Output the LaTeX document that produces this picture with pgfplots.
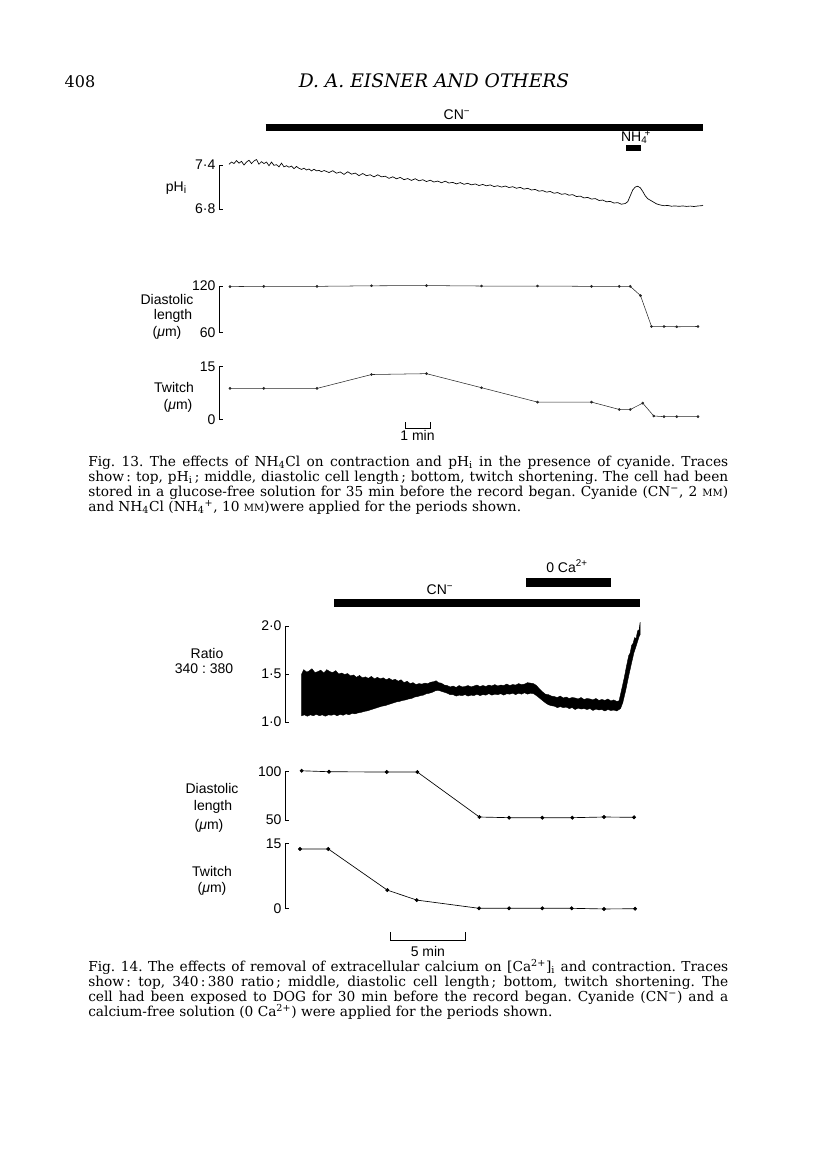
\documentclass[border=0pt]{standalone}
\usepackage{fontspec}
\usepackage{pgfplots}
\pgfplotsset{compat=1.18}
\newfontfamily\hv{Liberation Sans}
\newfontfamily\serifcap{DejaVu Serif}
\newcommand\lab{\hv\fontsize{10.5}{12}\selectfont}
\newcommand\capf{\serifcap\fontsize{10.3}{11}\selectfont}
\newcommand\mM{{\fontsize{7.5}{8}\selectfont MM}}
\frenchspacing

\pgfplotsset{
  trace/.style={
    scale only axis, clip=false, anchor=south west,
    axis x line=none, axis y line*=left, xtick=\empty,
    y axis line style={-, line width=0.6pt},
    tick align=inside, major tick length=3pt,
    ytick style={line width=0.6pt, black},
    yticklabel style={font=\lab, inner sep=2.5pt},
  },
  dots13/.style={black!85, line width=0.4pt, mark=*, mark size=0.8pt},
  dots14/.style={black, line width=0.5pt, mark=*, mark size=1.2pt},
}

\begin{document}
\begin{tikzpicture}
\path[use as bounding box] (0,0) rectangle (612pt,-877.5pt);

% ---------------- Fig. 13 ----------------
% pHi
\begin{axis}[trace, at={(164.25pt,-156.75pt)}, width=363pt, height=33pt,
  xmin=-0.4, xmax=18.96, ymin=6.8, ymax=7.4,
  ytick={6.8,7.4}, yticklabels={6·8,7·4}]
\addplot[black, line width=0.5pt] table {
0.0 7.41
0.1 7.44
0.2 7.42
0.3 7.46
0.4 7.425
0.5 7.45
0.6 7.40
0.7 7.44
0.8 7.465
0.9 7.42
1.0 7.455
1.1 7.475
1.2 7.41
1.3 7.445
1.4 7.42
1.5 7.44
1.6 7.39
1.7 7.44
1.8 7.395
1.9 7.405
2.0 7.375
2.1 7.425
2.2 7.375
2.3 7.39
2.4 7.37
2.5 7.385
2.6 7.35
2.7 7.38
2.8 7.355
2.9 7.34
3.0 7.357
3.1 7.332
3.2 7.345
3.3 7.32
3.4 7.342
3.5 7.32
3.6 7.327
3.7 7.308
3.8 7.325
3.9 7.312
4.0 7.297
4.15 7.322
4.3 7.288
4.45 7.305
4.6 7.272
4.75 7.308
4.9 7.275
5.05 7.29
5.2 7.255
5.35 7.284
5.5 7.254
5.65 7.267
5.8 7.238
5.95 7.267
6.1 7.238
6.25 7.247
6.4 7.218
6.55 7.239
6.7 7.212
6.85 7.231
7.0 7.20
7.15 7.215
7.3 7.19
7.45 7.213
7.6 7.184
7.75 7.199
7.9 7.174
8.05 7.193
8.2 7.168
8.35 7.181
8.5 7.158
8.65 7.179
8.8 7.154
8.95 7.163
9.1 7.142
9.25 7.16
9.4 7.137
9.55 7.15
9.7 7.129
9.85 7.142
10.0 7.12
10.15 7.135
10.3 7.116
10.45 7.129
10.6 7.106
10.75 7.117
10.9 7.099
11.05 7.113
11.2 7.093
11.35 7.104
11.5 7.083
11.65 7.095
11.8 7.071
11.95 7.082
12.1 7.059
12.25 7.067
12.4 7.043
12.55 7.051
12.7 7.03
12.85 7.039
13.0 7.015
13.15 7.024
13.3 7.00
13.45 7.009
13.6 6.988
13.75 6.996
13.9 6.97
14.05 6.976
14.2 6.951
14.35 6.958
14.5 6.935
14.65 6.942
14.8 6.916
14.95 6.922
15.1 6.898
15.25 6.904
15.4 6.881
15.55 6.887
15.7 6.865
15.85 6.875
15.95 6.90
16.05 6.98
16.15 7.06
16.25 7.10
16.35 7.11
16.45 7.09
16.55 7.04
16.65 6.98
16.75 6.94
16.85 6.92
16.95 6.90
17.1 6.87
17.25 6.855
17.4 6.845
17.55 6.848
17.7 6.838
17.85 6.842
18.0 6.836
18.15 6.842
18.3 6.835
18.45 6.84
18.6 6.834
18.75 6.841
18.9 6.845
18.96 6.852
};
% application periods
\addplot[black, line width=4.9pt] coordinates {(1.46,7.911) (18.96,7.911)};
\addplot[black, line width=4.3pt] coordinates {(15.88,7.632) (16.48,7.632)};
\end{axis}

% diastolic length
\begin{axis}[trace, at={(164.25pt,-249.525pt)}, width=363pt, height=35pt,
  xmin=-0.4, xmax=18.96, ymin=60, ymax=120,
  ytick={60,120}, yticklabels={60,120}]
\addplot[dots13] coordinates {
(0.04,119.3) (1.39,119.6) (3.52,119.6) (5.70,120.3) (7.90,120.6)
(10.10,120) (12.34,120) (14.50,119.6) (15.61,119.6) (16.05,119.6)
(16.46,107.7) (16.90,68) (17.40,68) (17.91,67.6) (18.76,68)};
\end{axis}

% twitch
\begin{axis}[trace, at={(164.25pt,-314.475pt)}, width=363pt, height=39.5pt,
  xmin=-0.4, xmax=18.96, ymin=0, ymax=15,
  ytick={0,15}, yticklabels={0,15}]
\addplot[dots13] coordinates {
(0.04,8.8) (1.39,8.8) (3.52,8.8) (5.70,12.75) (7.90,13.0)
(10.10,9.0) (12.34,4.9) (14.50,4.9) (15.61,2.8) (16.05,2.8)
(16.55,4.6) (16.99,0.94) (17.40,0.75) (17.91,0.75) (18.76,0.75)};
\draw[line width=0.6pt] (axis cs:7.04,-0.89) -- (axis cs:7.04,-2.48)
  -- (axis cs:8.04,-2.48) -- (axis cs:8.04,-0.89);
\node[font=\lab] at (axis cs:7.54,-4.5) {1 min};
\end{axis}

% ---------------- Fig. 14 ----------------
% ratio
\begin{axis}[trace, at={(213.85pt,-541.5pt)}, width=267.7pt, height=72pt,
  xmin=-1, xmax=23, ymin=1, ymax=2,
  ytick={1,1.5,2}, yticklabels={1·0,1·5,2·0}]
\addplot[fill=black, draw=black, line width=0.3pt] coordinates {
(0.11,1.50) (0.25,1.545) (0.45,1.52) (0.6,1.53) (0.8,1.555) (1.0,1.515)
(1.2,1.525) (1.4,1.54) (1.6,1.51) (1.8,1.545) (2.0,1.525) (2.2,1.515)
(2.4,1.535) (2.6,1.50) (2.8,1.51) (3.0,1.495) (3.2,1.505) (3.4,1.48)
(3.6,1.49) (3.8,1.465) (4.0,1.485) (4.2,1.46) (4.4,1.47) (4.6,1.455)
(4.8,1.475) (5.0,1.45) (5.2,1.465) (5.4,1.45) (5.6,1.46) (5.8,1.44)
(6.0,1.455) (6.2,1.435) (6.4,1.445) (6.6,1.425) (6.8,1.44) (7.0,1.41)
(7.2,1.425) (7.4,1.40) (7.6,1.41) (7.8,1.39) (8.0,1.40) (8.2,1.395)
(8.4,1.405) (8.6,1.40) (8.8,1.415) (9.0,1.42) (9.15,1.43) (9.3,1.41)
(9.5,1.405) (9.7,1.385) (9.9,1.38) (10.1,1.365) (10.3,1.375) (10.5,1.36)
(10.7,1.38) (10.9,1.365) (11.1,1.37) (11.3,1.38) (11.5,1.365) (11.7,1.375)
(11.9,1.385) (12.1,1.37) (12.3,1.38) (12.5,1.37) (12.7,1.385) (12.9,1.375)
(13.1,1.39) (13.3,1.375) (13.5,1.385) (13.7,1.38) (13.9,1.395) (14.1,1.38)
(14.3,1.39) (14.5,1.385) (14.7,1.40) (14.9,1.39) (15.1,1.395) (15.3,1.41)
(15.5,1.405) (15.7,1.40) (15.9,1.38) (16.1,1.345) (16.3,1.315) (16.5,1.29)
(16.7,1.285) (16.9,1.27) (17.1,1.265) (17.3,1.255) (17.5,1.27) (17.7,1.25)
(17.9,1.26) (18.1,1.245) (18.3,1.255) (18.5,1.25) (18.7,1.24) (18.9,1.255)
(19.1,1.235) (19.3,1.245) (19.5,1.24) (19.7,1.23) (19.9,1.245) (20.1,1.225)
(20.3,1.235) (20.5,1.225) (20.7,1.24) (20.9,1.22) (21.1,1.23) (21.3,1.215)
(21.45,1.22) (21.6,1.32) (21.8,1.46) (21.95,1.58) (22.1,1.69) (22.2,1.72)
(22.3,1.80) (22.4,1.82) (22.5,1.88) (22.6,1.87) (22.7,1.95) (22.8,1.96)
(22.87,2.04) (22.87,1.91) (22.8,1.89) (22.7,1.84) (22.6,1.79) (22.45,1.72)
(22.3,1.62) (22.1,1.48) (21.9,1.33) (21.7,1.20) (21.55,1.14)
(21.3,1.115) (21.1,1.125) (20.9,1.12) (20.7,1.13) (20.5,1.115) (20.3,1.13)
(20.1,1.125) (19.9,1.135) (19.7,1.12) (19.5,1.14) (19.3,1.13) (19.1,1.14)
(18.9,1.135) (18.7,1.145) (18.5,1.13) (18.3,1.15) (18.1,1.14) (17.9,1.155)
(17.7,1.15) (17.5,1.16) (17.3,1.15) (17.1,1.165) (16.9,1.17) (16.7,1.18)
(16.5,1.20) (16.3,1.225) (16.1,1.25) (15.9,1.275) (15.7,1.295) (15.5,1.30)
(15.3,1.29) (15.1,1.305) (14.9,1.29) (14.7,1.30) (14.5,1.285) (14.3,1.30)
(14.1,1.29) (13.9,1.295) (13.7,1.28) (13.5,1.295) (13.3,1.285) (13.1,1.29)
(12.9,1.28) (12.7,1.295) (12.5,1.28) (12.3,1.285) (12.1,1.275) (11.9,1.29)
(11.7,1.275) (11.5,1.28) (11.3,1.27) (11.1,1.285) (10.9,1.275) (10.7,1.28)
(10.5,1.27) (10.3,1.285) (10.1,1.285) (9.9,1.30) (9.7,1.31) (9.5,1.32)
(9.3,1.33) (9.1,1.325) (8.9,1.31) (8.7,1.30) (8.5,1.295) (8.3,1.28)
(8.1,1.275) (7.9,1.265) (7.7,1.26) (7.5,1.245) (7.3,1.24) (7.1,1.23)
(6.9,1.225) (6.7,1.215) (6.5,1.21) (6.3,1.20) (6.1,1.19) (5.9,1.18)
(5.7,1.17) (5.5,1.165) (5.3,1.155) (5.1,1.145) (4.9,1.135) (4.7,1.125)
(4.5,1.115) (4.3,1.11) (4.1,1.10) (3.9,1.095) (3.7,1.085) (3.5,1.09)
(3.3,1.075) (3.1,1.085) (2.9,1.07) (2.7,1.08) (2.5,1.065) (2.3,1.08)
(2.1,1.07) (1.9,1.075) (1.7,1.06) (1.5,1.075) (1.3,1.065) (1.1,1.08)
(0.9,1.065) (0.7,1.075) (0.5,1.06) (0.3,1.075) (0.11,1.065)} -- cycle;
% application periods
\addplot[black, line width=6.2pt] coordinates {(2.29,2.24) (22.87,2.24)};
\addplot[black, line width=6.2pt] coordinates {(15.20,2.453) (20.91,2.453)};
\end{axis}

% diastolic length
\begin{axis}[trace, at={(213.85pt,-615pt)}, width=267.7pt, height=36.2pt,
  xmin=-1, xmax=23, ymin=50, ymax=100,
  ytick={50,100}, yticklabels={50,100}]
\addplot[dots14] coordinates {
(0.11,101) (1.95,100) (5.83,99.7) (7.89,99.7) (12.06,53.1)
(14.06,52.4) (16.29,52.4) (18.31,52.4) (20.44,53.1) (22.46,52.8)};
\end{axis}

% twitch
\begin{axis}[trace, at={(213.85pt,-681.225pt)}, width=267.7pt, height=48.75pt,
  xmin=-1, xmax=23, ymin=0, ymax=15,
  ytick={0,15}, yticklabels={0,15}]
\addplot[dots14] coordinates {
(0,13.7) (1.90,13.7) (5.87,4.2) (7.85,1.9) (12.04,0)
(14.06,0) (16.29,0) (18.27,0) (20.44,-0.15) (22.53,-0.1)};
\draw[line width=0.6pt] (axis cs:6.1,-5.47) -- (axis cs:6.1,-7.32)
  -- (axis cs:11.1,-7.32) -- (axis cs:11.1,-5.47);
\node[font=\lab] at (axis cs:8.6,-9.95) {5 min};
\end{axis}

% texts, placed in page pixels
\begin{scope}[x=0.75pt,y=-0.75pt]
\node[anchor=base, font=\serifcap\fontsize{12}{14}\selectfont] at (80,88) {408};
\node[anchor=base, font=\serifcap\fontsize{14}{16}\selectfont\itshape] at (434,88) {D. A. EISNER AND OTHERS};

\node[font=\lab] at (457,115) {CN\textsuperscript{−}};
\node[font=\lab] at (636,137) {NH\textsubscript{4}\kern-0.2em\textsuperscript{+}};
\node[font=\lab] at (176,188) {pH\raisebox{-0.3ex}{\fontsize{8}{9}\selectfont i}};
\node[font=\lab] at (167,299) {Diastolic};
\node[font=\lab] at (173,316) {length};
\node[font=\lab] at (167,333) {(\textit{μ}m)};
\node[font=\lab] at (174,387) {Twitch};
\node[font=\lab] at (178,406) {(\textit{μ}m)};

\node[font=\lab] at (567,566) {0 Ca\textsuperscript{2+}};
\node[font=\lab] at (440,590) {CN\textsuperscript{−}};
\node[font=\lab] at (207,653) {Ratio};
\node[font=\lab] at (204,669) {340 : 380};
\node[font=\lab] at (212,788) {Diastolic};
\node[font=\lab] at (213,807) {length};
\node[font=\lab] at (209,826) {(\textit{μ}m)};
\node[font=\lab] at (212,871) {Twitch};
\node[font=\lab] at (212,889) {(\textit{μ}m)};

\begin{scope}[every node/.style={anchor=base west, inner sep=0, font=\capf}]
\node at (88,466) {\makebox[480pt][s]{Fig. 13. The effects of NH\textsubscript{4}Cl on contraction and pH\textsubscript{i} in the presence of cyanide. Traces}};
\node at (88,481) {\makebox[480pt][s]{show\,: top, pH\textsubscript{i}\,; middle, diastolic cell length\,; bottom, twitch shortening. The cell had been}};
\node at (88,496) {\makebox[480pt][s]{stored in a glucose-free solution for 35 min before the record began. Cyanide (CN\textsuperscript{−}, 2 \mM)}};
\node at (88,511) {and NH\textsubscript{4}Cl (NH\textsubscript{4}\textsuperscript{+}, 10 \mM)were applied for the periods shown.};

\node at (88,971) {\makebox[480pt][s]{Fig. 14. The effects of removal of extracellular calcium on [Ca\textsuperscript{2+}]\textsubscript{i} and contraction. Traces}};
\node at (88,986) {\makebox[480pt][s]{show\,: top, 340\,:\,380 ratio\,; middle, diastolic cell length\,; bottom, twitch shortening. The}};
\node at (88,1001) {\makebox[480pt][s]{cell had been exposed to DOG for 30 min before the record began. Cyanide (CN\textsuperscript{−}) and a}};
\node at (88,1016) {calcium-free solution (0 Ca\textsuperscript{2+}) were applied for the periods shown.};
\end{scope}
\end{scope}
\end{tikzpicture}
\end{document}
